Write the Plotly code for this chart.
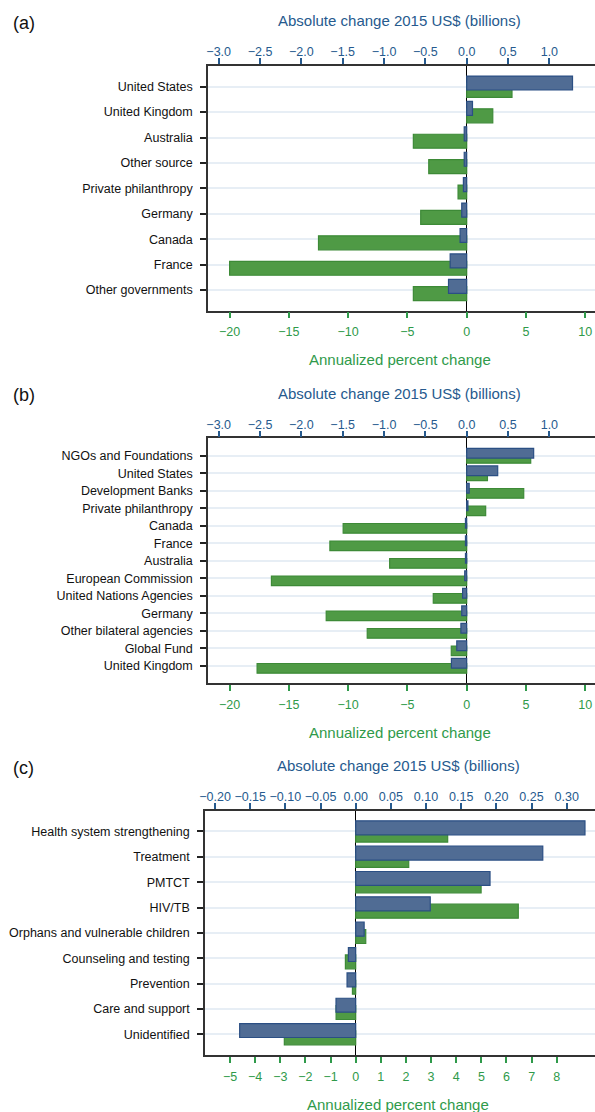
import plotly.graph_objects as go

W, H = 595, 1112

# ---------------- data ----------------
a_cats = ["United States", "United Kingdom", "Australia", "Other source",
          "Private philanthropy", "Germany", "Canada", "France", "Other governments"]
a_pct = [3.82, 2.2, -4.5, -3.2, -0.73, -3.88, -12.5, -20.0, -4.5]
a_abs = [1.28, 0.07, -0.03, -0.03, -0.04, -0.06, -0.08, -0.2, -0.22]

b_cats = ["NGOs and Foundations", "United States", "Development Banks", "Private philanthropy",
          "Canada", "France", "Australia", "European Commission", "United Nations Agencies",
          "Germany", "Other bilateral agencies", "Global Fund", "United Kingdom"]
b_pct = [5.4, 1.75, 4.81, 1.6, -10.42, -11.54, -6.5, -16.47, -2.82, -11.85, -8.39, -1.3, -17.68]
b_abs = [0.81, 0.375, 0.03, 0.015, -0.015, -0.015, -0.015, -0.024, -0.05, -0.06, -0.07, -0.12, -0.185]

c_cats = ["Health system strengthening", "Treatment", "PMTCT", "HIV/TB",
          "Orphans and vulnerable children", "Counseling and testing", "Prevention",
          "Care and support", "Unidentified"]
c_pct = [3.66, 2.11, 4.99, 6.47, 0.40, -0.41, -0.13, -0.78, -2.84]
c_abs = [0.326, 0.266, 0.191, 0.106, 0.012, -0.0104, -0.0123, -0.028, -0.165]

ab_pct_ticks = [-20, -15, -10, -5, 0, 5, 10]
ab_abs_ticks = [-3.0, -2.5, -2.0, -1.5, -1.0, -0.5, 0.0, 0.5, 1.0]
c_pct_ticks = [-5, -4, -3, -2, -1, 0, 1, 2, 3, 4, 5, 6, 7, 8]
c_abs_ticks = [-0.20, -0.15, -0.10, -0.05, 0.00, 0.05, 0.10, 0.15, 0.20, 0.25, 0.30]

# ---------------- styles ----------------
BLUE_TXT = "#265a8e"
GREEN_TXT = "#2f9a4a"
BLUE_FILL = "#506c94"
BLUE_EDGE = "#2b4f84"
GREEN_FILL = "#4f9a45"
GREEN_EDGE = "#3d8a37"
FRAME = "#333333"
GRID = "#e7eef5"
FONT = "Liberation Sans, Arial, Helvetica, sans-serif"
TICK_SIZE = 12.5

panels = [
    dict(label="(a)", cats=a_cats, pct=a_pct, absv=a_abs, top=66, bottom=310.7, left=208,
         zero=466.7, pct_ppu=11.856, abs_ppu=82.67, pct_ticks=ab_pct_ticks,
         abs_ticks=ab_abs_ticks, abs_fmt=".1f", pad=0.815),
    dict(label="(b)", cats=b_cats, pct=b_pct, absv=b_abs, top=438.3, bottom=683.3, left=208,
         zero=466.7, pct_ppu=11.856, abs_ppu=82.67, pct_ticks=ab_pct_ticks,
         abs_ticks=ab_abs_ticks, abs_fmt=".1f", pad=1.0),
    dict(label="(c)", cats=c_cats, pct=c_pct, absv=c_abs, top=810.7, bottom=1055, left=205,
         zero=355.7, pct_ppu=25.13, abs_ppu=703.3, pct_ticks=c_pct_ticks,
         abs_ticks=c_abs_ticks, abs_fmt=".2f", pad=0.82),
]

BAR_W = 0.55
OFF = 0.145

fig = go.Figure()
layout = {}
annotations = []

def py(px):
    return 1 - px / H

for i, p in enumerate(panels):
    n = len(p["cats"])
    xi_b = 2 * i + 1   # bottom axis (percent)
    xi_t = 2 * i + 2   # top axis (absolute)
    yi = i + 1
    xb = "x" if xi_b == 1 else f"x{xi_b}"
    xt = f"x{xi_t}"
    yy = "y" if yi == 1 else f"y{yi}"
    xb_key = "xaxis" if xi_b == 1 else f"xaxis{xi_b}"
    xt_key = f"xaxis{xi_t}"
    y_key = "yaxis" if yi == 1 else f"yaxis{yi}"

    pos = list(range(n))
    fig.add_trace(go.Bar(
        x=p["pct"], y=[k + OFF for k in pos], orientation="h", width=BAR_W,
        marker=dict(color=GREEN_FILL, line=dict(color=GREEN_EDGE, width=1.2)),
        xaxis=xb, yaxis=yy, showlegend=False, hoverinfo="x"))
    fig.add_trace(go.Bar(
        x=p["absv"], y=[k - OFF for k in pos], orientation="h", width=BAR_W,
        marker=dict(color=BLUE_FILL, line=dict(color=BLUE_EDGE, width=1.2)),
        xaxis=xt, yaxis=yy, showlegend=False, hoverinfo="x"))

    dom_x = [p["left"] / W, 1.0]
    dom_y = [py(p["bottom"]), py(p["top"])]
    pct_range = [(p["left"] - p["zero"]) / p["pct_ppu"], (W - p["zero"]) / p["pct_ppu"]]
    abs_range = [(p["left"] - p["zero"]) / p["abs_ppu"], (W - p["zero"]) / p["abs_ppu"]]

    layout[xb_key] = dict(
        domain=dom_x, range=pct_range, anchor=yy, side="bottom", automargin=False,
        tickmode="array", tickvals=p["pct_ticks"], tickangle=0,
        ticks="outside", ticklen=6, tickwidth=1.5, tickcolor=GREEN_TXT,
        tickfont=dict(family=FONT, size=TICK_SIZE, color=GREEN_TXT),
        ticklabelstandoff=3,
        showline=True, linecolor=FRAME, linewidth=1.5,
        showgrid=False, zeroline=True, zerolinecolor="#000000", zerolinewidth=1,
        fixedrange=True)
    layout[xt_key] = dict(
        range=abs_range, anchor=yy, overlaying=xb, side="top", automargin=False,
        tickmode="array", tickvals=p["abs_ticks"], tickformat=p["abs_fmt"], tickangle=0,
        ticks="outside", ticklen=6, tickwidth=1.5, tickcolor=BLUE_TXT,
        tickfont=dict(family=FONT, size=TICK_SIZE, color=BLUE_TXT),
        ticklabelstandoff=-3,
        showline=True, linecolor=FRAME, linewidth=1.5,
        showgrid=False, zeroline=False, fixedrange=True)
    layout[y_key] = dict(
        domain=dom_y, anchor=xb, range=[n - 1 + p["pad"], -p["pad"]], automargin=False,
        tickmode="array", tickvals=pos, ticktext=p["cats"],
        ticks="outside", ticklen=6, tickwidth=1.5, tickcolor="#222222",
        tickfont=dict(family=FONT, size=TICK_SIZE, color="#111111"),
        ticklabelstandoff=5,
        showline=True, linecolor=FRAME, linewidth=1.5,
        showgrid=True, gridcolor=GRID, gridwidth=1.5, zeroline=False, fixedrange=True)

    cx = (p["left"] + W) / 2 / W - 0.003
    annotations.append(dict(
        text="Absolute change 2015 US$ (billions)", x=cx, y=py(p["top"] - 45),
        xref="paper", yref="paper", xanchor="center", yanchor="middle", showarrow=False,
        font=dict(family=FONT, size=15, color=BLUE_TXT)))
    annotations.append(dict(
        text="Annualized percent change", x=cx, y=py(p["bottom"] + 49),
        xref="paper", yref="paper", xanchor="center", yanchor="middle", showarrow=False,
        font=dict(family=FONT, size=15, color=GREEN_TXT)))
    annotations.append(dict(
        text=p["label"], x=11 / W, y=py(p["top"] - 43),
        xref="paper", yref="paper", xanchor="left", yanchor="middle", showarrow=False,
        font=dict(family=FONT, size=18, color="#111111")))

fig.update_layout(
    width=W, height=H,
    margin=dict(l=0, r=0, t=0, b=0, autoexpand=False),
    paper_bgcolor="white", plot_bgcolor="white",
    barmode="overlay",
    annotations=annotations,
    font=dict(family=FONT),
    **layout)

fig.write_html(
    "out.html",
    config={"displayModeBar": False},
    post_script="document.body.style.margin='0';document.body.style.overflow='hidden';",
)
